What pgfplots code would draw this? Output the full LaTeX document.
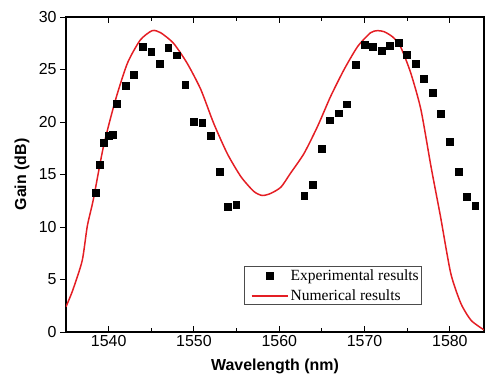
\documentclass[border=0pt]{standalone}
\usepackage{pgfplots}
\pgfplotsset{compat=1.18}
\usepackage{fontspec}
\setmainfont{Liberation Serif}
\newfontfamily\arial{Liberation Sans}
\definecolor{cred}{RGB}{228,30,36}
\begin{document}
\begin{tikzpicture}
\begin{axis}[
  name=ax,
  scale only axis,
  width=418bp, height=315bp,
  xmin=1535, xmax=1584,
  ymin=0, ymax=30,
  xtick={1540,1550,...,1580},
  minor xtick={1545,1555,...,1575},
  ytick={0,5,...,30},
  x tick style={black, line width=1pt},
  y tick style={black, line width=1pt},
  xtick align=inside,
  ytick align=outside,
  major tick length=6bp,
  minor tick length=3.5bp,
  axis line style={line width=1.3pt},
  tick label style={font=\arial\fontsize{16}{19}\selectfont},
  /pgf/number format/assume math mode=true,
  /pgf/number format/1000 sep={},
  xlabel={\arial\bfseries\fontsize{16}{19}\selectfont Wavelength (nm)},
  ylabel={\arial\bfseries\fontsize{16}{19}\selectfont Gain (dB)},
  xlabel style={at={(axis description cs:0.5,-0.108)}, anchor=center},
  ylabel style={at={(axis description cs:-0.105,0.5)}, anchor=center},
  legend style={at={(axis description cs:0.852,0.085)}, anchor=south east,
    font=\fontsize{15.6}{18}\selectfont, draw=black!70, line width=0.8pt,
    inner xsep=1bp, inner ysep=1bp, row sep=3.5bp},
  legend cell align=left,
]
\addplot[only marks, mark=square*, mark size=3.4bp, black,
  legend image code/.code={
    \path[draw=none, fill=none] (-6bp,0) -- (36bp,0);
    \fill[black] (18bp-3.3bp,-3.3bp) rectangle (18bp+3.3bp,3.3bp);}]
  coordinates {
  (1538.44,13.26) (1538.94,15.97) (1539.46,18.03) (1540.0,18.7) (1540.47,18.8)
  (1540.98,21.73) (1542.0,23.47) (1542.98,24.49) (1543.99,27.17) (1544.98,26.66)
  (1545.99,25.57) (1546.97,27.04) (1547.95,26.37) (1548.97,23.57) (1549.98,20.01)
  (1550.96,19.94) (1551.97,18.67) (1552.99,15.27) (1553.97,11.9) (1554.95,12.15)
  (1562.93,13.01) (1563.94,14.03) (1564.93,17.43) (1565.94,20.17) (1566.96,20.84)
  (1567.93,21.7) (1568.96,25.42) (1569.98,27.39) (1570.99,27.2) (1571.97,26.81)
  (1572.98,27.26) (1573.97,27.52) (1574.94,26.43) (1575.96,25.54) (1576.94,24.14)
  (1577.96,22.8) (1578.97,20.8) (1579.99,18.13) (1581.0,15.24) (1581.98,12.85)
  (1582.96,12.02)
  };
\addlegendentry{Experimental results}
\addplot[cred, line width=1.5pt, smooth, tension=0.4,
  legend image code/.code={
    \path[draw=none, fill=none] (-6bp,0) -- (36bp,0);
    \draw[cred, line width=1.8pt] (0bp,0bp) -- (36bp,0bp);}]
  coordinates {
  (1535.0,2.4) (1535.8,4.0) (1536.9,6.8) (1537.5,10.1) (1538.2,12.6)
  (1539.4,17.7) (1540.8,22.1) (1542.2,25.6) (1543.7,27.8) (1545.1,28.7)
  (1546.1,28.5) (1547.6,27.5) (1549.2,25.6) (1550.8,23.1) (1552.3,19.9)
  (1553.9,17.0) (1555.5,14.8) (1557.0,13.4) (1558.0,13.0) (1559.0,13.2)
  (1560.2,13.8) (1561.3,15.1) (1562.9,17.0) (1564.5,19.6) (1566.0,22.4)
  (1567.6,25.0) (1569.2,27.2) (1570.7,28.5) (1571.5,28.7) (1572.3,28.6)
  (1573.3,28.1) (1574.2,27.2) (1575.4,24.7) (1576.6,21.2) (1577.8,15.7)
  (1578.9,11.0) (1580.1,5.6) (1581.3,2.7) (1582.5,1.1) (1584.0,0.2)
};
\addlegendentry{Numerical results}
\end{axis}
\pgfresetboundingbox
\path (ax.south west) ++(-66bp,-43.3bp) coordinate (bl);
\path (ax.north east) ++(1bp,17bp) coordinate (tr);
\path[use as bounding box] (bl) rectangle (tr);
\end{tikzpicture}
\end{document}
